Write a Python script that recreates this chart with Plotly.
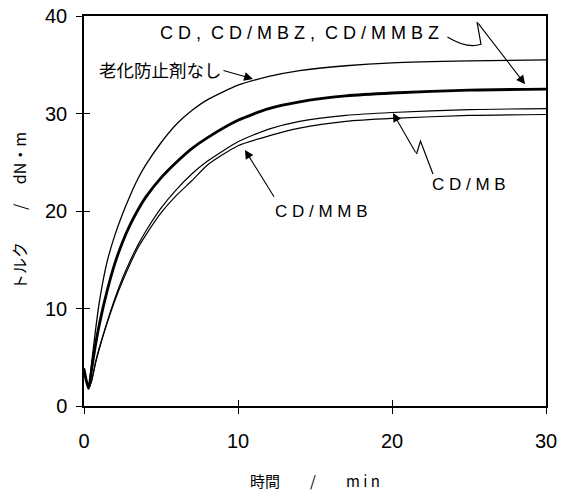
import plotly.graph_objects as go

# ---- data ----
time_min = [0, 0.15, 0.3, 0.5, 0.75, 1.0, 1.5, 2.0, 2.5, 3.0, 3.5, 4.0, 5.0, 6.0, 7.0, 8.0,
            10, 12, 14, 17, 20, 25, 30]
no_antioxidant = [3.8, 2.6, 1.9, 4.5, 7.8, 10.7, 14.8, 17.5, 19.7, 21.6, 23.3, 24.7, 27.0, 28.9,
                  30.3, 31.4, 32.9, 33.8, 34.4, 34.9, 35.2, 35.4, 35.5]
cd_group = [3.8, 2.6, 1.8, 3.8, 6.3, 8.4, 11.8, 14.6, 16.8, 18.6, 20.1, 21.4, 23.4, 25.0,
            26.4, 27.5, 29.3, 30.5, 31.2, 31.8, 32.1, 32.4, 32.5]
cd_mb = [3.9, 2.6, 1.8, 2.6, 4.5, 6.0, 8.6, 11.0, 13.1, 14.9, 16.5, 17.9, 20.3, 22.2,
         23.8, 25.1, 27.1, 28.4, 29.2, 29.8, 30.1, 30.4, 30.5]
cd_mmb = [3.9, 2.6, 1.8, 2.6, 4.4, 5.9, 8.5, 10.8, 12.8, 14.6, 16.2, 17.5, 19.8, 21.6,
          23.1, 24.7, 26.7, 27.7, 28.5, 29.2, 29.5, 29.8, 29.9]

x_ticks = [0, 10, 20, 30]
y_ticks = [0, 10, 20, 30, 40]
x_range = [0, 30]
y_range = [0, 40]

NUM_FONT = "Liberation Sans, Arial, sans-serif"
JP_FONT = "Noto Sans CJK JP, sans-serif"
LAT_FONT = "Liberation Sans, Arial, sans-serif"

fig = go.Figure()
series = [
    ("老化防止剤なし", no_antioxidant, 1.3),
    ("CD, CD/MBZ, CD/MMBZ", cd_group, 2.8),
    ("CD/MB", cd_mb, 1.2),
    ("CD/MMB", cd_mmb, 1.2),
]
for name, vals, w in series:
    fig.add_trace(go.Scatter(x=time_min, y=vals, mode="lines", name=name,
                             line=dict(color="black", width=w, shape="spline", smoothing=0.6),
                             showlegend=False, hoverinfo="skip"))

# invisible trace for the overlay axes (inward tick marks)
fig.add_trace(go.Scatter(x=x_range, y=y_range, xaxis="x2", yaxis="y2", mode="lines",
                         line=dict(width=0), showlegend=False, hoverinfo="skip", opacity=0))

fig.update_layout(
    width=565, height=491,
    margin=dict(l=84, r=19, t=16, b=85),
    paper_bgcolor="white", plot_bgcolor="white",
    xaxis=dict(range=x_range, tickvals=x_ticks, ticks="outside", ticklen=6, tickwidth=1.3,
               tickcolor="black", showline=True, linecolor="black", linewidth=1.5, mirror=True,
               showgrid=False, zeroline=False, automargin=False, ticklabelstandoff=10,
               ticklabeloverflow="allow",
               tickfont=dict(family=NUM_FONT, size=20, color="black"),
               title=dict(text="時間　　/　　m i n", standoff=27,
                          font=dict(family=JP_FONT, size=15, color="black"))),
    yaxis=dict(range=y_range, tickvals=y_ticks, ticks="outside", ticklen=6, tickwidth=1.3,
               tickcolor="black", showline=True, linecolor="black", linewidth=1.5, mirror=True,
               showgrid=False, zeroline=False, ticklabelstandoff=5, automargin=False,
               ticklabeloverflow="allow",
               tickfont=dict(family=NUM_FONT, size=20, color="black"),
               title=dict(text="トルク　　/　 dN・m", standoff=14,
                          font=dict(family=JP_FONT, size=16, color="black"))),
    xaxis2=dict(range=x_range, tickvals=x_ticks, ticks="inside", ticklen=6, tickwidth=1.3,
                tickcolor="black", overlaying="x", showticklabels=False, showline=False,
                showgrid=False, zeroline=False, automargin=False),
    yaxis2=dict(range=y_range, tickvals=y_ticks, ticks="inside", ticklen=6, tickwidth=1.3,
                tickcolor="black", overlaying="y", showticklabels=False, showline=False,
                showgrid=False, zeroline=False, automargin=False),
)

# ---- labels ----
fig.add_annotation(x=14.0, y=38.3, xref="x", yref="y", showarrow=False,
                   text="C D ,  C D / M B Z ,  C D / M M B Z",
                   font=dict(family=LAT_FONT, size=18, color="black"))
fig.add_annotation(x=9.1, y=34.5, xref="x", yref="y", showarrow=False, xanchor="right",
                   text="老化防止剤なし", font=dict(family=JP_FONT, size=17.5, color="black"))
fig.add_annotation(x=12.3, y=20.0, xref="x", yref="y", showarrow=False, xanchor="left",
                   text="C D / M M B", font=dict(family=LAT_FONT, size=17, color="black"))
fig.add_annotation(x=22.45, y=22.7, xref="x", yref="y", showarrow=False, xanchor="left",
                   text="C D / M B", font=dict(family=LAT_FONT, size=17, color="black"))

# ---- leader lines ----
line_style = dict(color="black", width=1.2)
fig.add_shape(type="path", xref="x", yref="y", line=line_style,
              path="M 23.6,37.85 Q 24.9,36.6 25.78,37.1 L 25.52,39.4")
fig.add_shape(type="path", xref="x", yref="y", line=line_style,
              path="M 22.66,23.79 L 21.85,27.18 L 21.59,25.85")

arrows = [
    (28.64, 33.0, 25.52, 39.4),   # CD group
    (10.97, 33.55, 8.96, 34.46),  # no antioxidant
    (10.45, 26.26, 12.4, 21.3),   # CD/MMB
    (20.06, 30.05, 21.59, 25.85), # CD/MB
]
for tx, ty, sx, sy in arrows:
    fig.add_annotation(x=tx, y=ty, ax=sx, ay=sy, xref="x", yref="y", axref="x", ayref="y",
                       text="", showarrow=True, arrowhead=2, arrowsize=1.6, arrowwidth=1.1,
                       arrowcolor="black", standoff=0)

fig.write_html("out.html", config={"displayModeBar": False},
               post_script="document.body.style.margin='0';document.body.style.overflow='hidden';")
